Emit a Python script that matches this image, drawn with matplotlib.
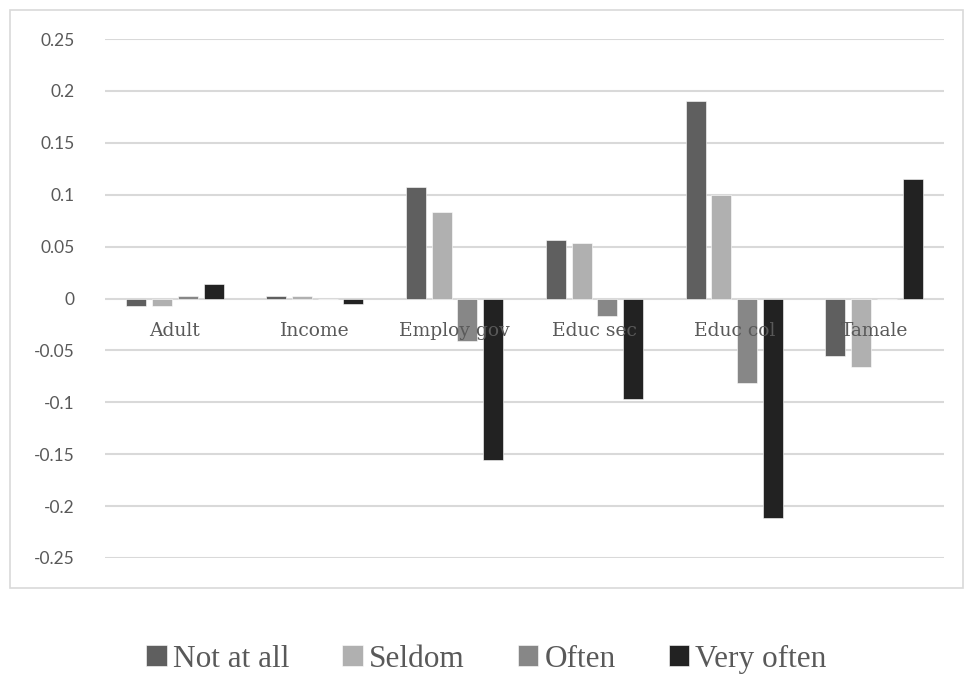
import numpy as np
import matplotlib.pyplot as plt
from matplotlib.patches import Rectangle

categories = ['Adult', 'Income', 'Employ gov', 'Educ sec', 'Educ col', 'Tamale']
not_at_all = [-0.007, 0.002, 0.107, 0.056, 0.190, -0.055]
seldom = [-0.007, 0.002, 0.083, 0.053, 0.100, -0.066]
often = [0.002, 0.0, -0.041, -0.017, -0.081, 0.0]
very_often = [0.014, -0.005, -0.156, -0.097, -0.211, 0.115]
y_ticks = [0.25, 0.2, 0.15, 0.1, 0.05, 0, -0.05, -0.1, -0.15, -0.2, -0.25]

series = [('Not at all', not_at_all, '#5f5f5f'),
          ('Seldom', seldom, '#b0b0b0'),
          ('Often', often, '#878787'),
          ('Very often', very_often, '#222222')]

fig = plt.figure(figsize=(9.73, 6.8), dpi=100)
W, H = 973, 680
ax = fig.add_axes([105 / W, 1 - 558 / H, (944 - 105) / W, (558 - 39) / H])

# chart border
fig.patches.append(Rectangle((10 / W, 1 - 588 / H), 953 / W, 578 / H,
                             transform=fig.transFigure, fill=False,
                             edgecolor='#d9d9d9', linewidth=1.2))

x = np.arange(len(categories))
step = 0.184
width = 0.143
handles = []
for i, (name, vals, color) in enumerate(series):
    b = ax.bar(x + (i - 1.5) * step, vals, width, color=color, label=name,
               edgecolor='white', linewidth=0.4, zorder=3)
    handles.append(b)

ax.set_xlim(-0.5, len(categories) - 0.5)
ax.set_ylim(-0.25, 0.25)
ax.set_yticks(y_ticks)
ax.set_yticklabels([f'{t:g}' for t in y_ticks], fontfamily='Lato',
                   fontsize=12.5, color='#595959')
ax.tick_params(axis='y', length=0, pad=22)
ax.yaxis.grid(True, color='#d9d9d9', linewidth=1.5, zorder=0)
ax.set_axisbelow(True)
for s in ax.spines.values():
    s.set_visible(False)

# category labels sit just under the zero line
ax.set_xticks([])
for xi, lab in zip(x, categories):
    ax.text(xi, -0.031, lab, ha='center', va='center', fontsize=13.5,
            fontfamily='DejaVu Serif', color='#595959', zorder=4)

leg = fig.legend(handles=handles, loc='center', bbox_to_anchor=(0.5, 1 - 659 / H),
                 ncol=4, frameon=False, handlelength=0.65, handleheight=0.65,
                 handletextpad=0.2, columnspacing=1.7,
                 prop={'family': 'Liberation Serif', 'size': 22.5})
for t in leg.get_texts():
    t.set_color('#595959')

fig.savefig('out.png', dpi=100)
